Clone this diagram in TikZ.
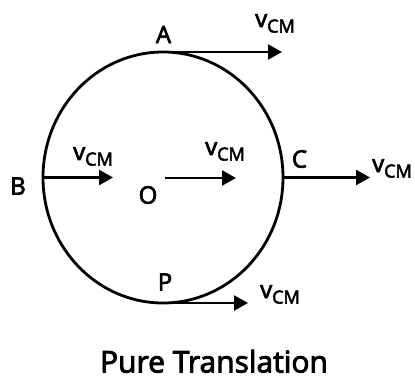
\documentclass[tikz,border=0pt]{standalone}
\usepackage{fontspec}
\setmainfont{Open Sans}[UprightFeatures={FakeBold=3}]
\usetikzlibrary{arrows.meta,shapes.geometric}
\newcommand\myvcm{{\fontsize{24}{24}\selectfont v}\raisebox{-5.5pt}{\fontsize{18}{18}\selectfont CM}}
\begin{document}
\begin{tikzpicture}[x=1pt,y=-1pt,
  vec/.style={line width=2.5pt,-{Triangle[length=14pt,width=15pt]}},
  lbl/.style={inner sep=0pt,font=\fontsize{24}{24}\selectfont},
  vlbl/.style={inner sep=0pt,anchor=base west}]
\useasboundingbox (0,0) rectangle (415,377);
\node[draw,ellipse,line width=2.8pt,outer sep=0pt,minimum width=240pt,minimum height=251pt] (wheel) at (163,177.5) {};
\coordinate (aend) at (282,52);
\coordinate (bend) at (113,177.5);
\coordinate (ostart) at (165,178);
\coordinate (oend) at (236,178);
\coordinate (cend) at (370,177.5);
\coordinate (pend) at (248,303);
\draw[vec] (wheel.north) -- (aend);
\draw[vec] (wheel.west) -- (bend);
\draw[vec] (ostart) -- (oend);
\draw[vec] (wheel.east) -- (cend);
\draw[vec] (wheel.south) -- (pend);
\node[lbl] (A) at (163.5,34.5) {A};
\node[lbl] (B) at (18,186) {B};
\node[lbl] (O) at (148,195) {O};
\node[lbl] (C) at (299.5,159) {C};
\node[lbl] (P) at (165,282) {P};
\node[vlbl] (vA) at (255,27) {\myvcm};
\node[vlbl] (vB) at (73,160) {\myvcm};
\node[vlbl] (vO) at (205,155) {\myvcm};
\node[vlbl] (vC) at (372,172) {\myvcm};
\node[vlbl] (vP) at (260,298) {\myvcm};
\node[inner sep=0pt,anchor=base,font=\fontsize{30}{30}\selectfont] (title) at (214,372.5) {Pure Translation};
\end{tikzpicture}
\end{document}
